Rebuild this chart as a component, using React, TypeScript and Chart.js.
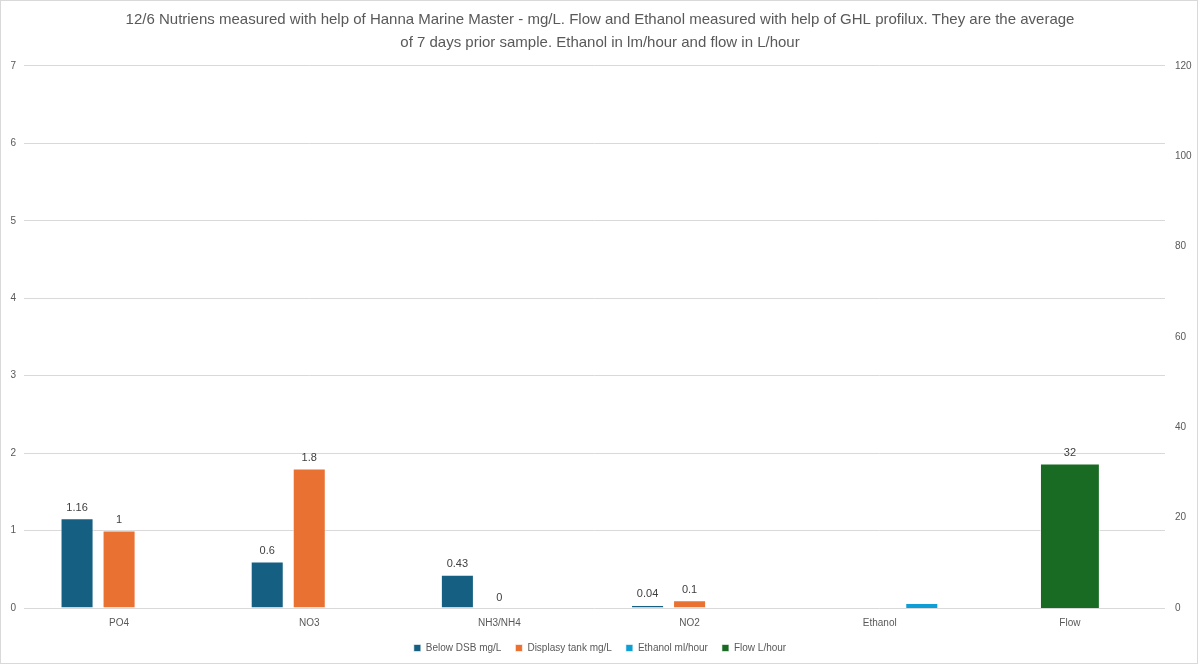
import React, { useEffect, useRef } from "react";
import { Chart, registerables } from "chart.js";

Chart.register(...registerables);

const categories = ["PO4", "NO3", "NH3/NH4", "NO2", "Ethanol", "Flow"];
const belowDSB: (number | null)[] = [1.16, 0.6, 0.43, 0.04, null, null];
const displayTank: (number | null)[] = [1, 1.8, 0, 0.1, null, null];
const ethanolMl: (number | null)[] = [null, null, null, null, 1.1, null];
const flowL: (number | null)[] = [null, null, null, null, null, 32];
const seriesNames = ["Below DSB mg/L", "Displasy tank mg/L", "Ethanol ml/hour", "Flow L/hour"];
const titleLines = [
  "12/6 Nutriens measured with help of Hanna Marine Master - mg/L. Flow and Ethanol measured with help of GHL profilux. They are the average",
  "of 7 days prior sample. Ethanol in lm/hour and flow in L/hour",
];
const leftMax = 7;
const rightMax = 120;
const rightStep = 20;

const FONT = "'Liberation Sans', Arial, sans-serif";

const frameAndLabels = {
  id: "frameAndLabels",
  beforeDraw(chart: any) {
    const { ctx, width, height } = chart;
    ctx.save();
    ctx.fillStyle = "#ffffff";
    ctx.fillRect(0, 0, width, height);
    ctx.strokeStyle = "#d9d9d9";
    ctx.lineWidth = 1;
    ctx.strokeRect(0.5, 0.5, width - 3, height - 2);
    ctx.restore();
  },
  afterDatasetsDraw(chart: any) {
    const { ctx } = chart;
    ctx.save();
    ctx.font = `11px ${FONT}`;
    ctx.fillStyle = "#404040";
    ctx.textAlign = "center";
    ctx.textBaseline = "bottom";
    chart.data.datasets.forEach((ds: any, i: number) => {
      if (!ds.showValue) return;
      const meta = chart.getDatasetMeta(i);
      meta.data.forEach((el: any, j: number) => {
        const v = ds.data[j];
        if (v === null || v === undefined) return;
        ctx.fillText(String(v), el.x, el.y - 5);
      });
    });
    ctx.restore();
  },
};

const common = {
  borderColor: "rgba(255,255,255,0.6)",
  borderWidth: 1,
  xAxisID: "x",
};

export default function App() {
  const ref = useRef<HTMLCanvasElement | null>(null);
  useEffect(() => {
    if (!ref.current) return;
    const chart = new Chart(ref.current, {
      type: "bar",
      data: {
        labels: categories,
        datasets: [
          {
            ...common,
            label: seriesNames[0],
            data: belowDSB,
            backgroundColor: "#156082",
            yAxisID: "y",
            categoryPercentage: 0.663,
            barPercentage: 0.786,
            showValue: true,
          } as any,
          {
            ...common,
            label: seriesNames[1],
            data: displayTank,
            backgroundColor: "#E97132",
            yAxisID: "y",
            categoryPercentage: 0.663,
            barPercentage: 0.786,
            showValue: true,
          } as any,
          {
            ...common,
            label: seriesNames[2],
            data: ethanolMl,
            backgroundColor: "#0F9ED5",
            yAxisID: "y1",
            categoryPercentage: 0.663,
            barPercentage: 0.786,
            showValue: false,
          } as any,
          {
            ...common,
            label: seriesNames[3],
            data: flowL,
            backgroundColor: "#196B24",
            yAxisID: "y1",
            grouped: false,
            categoryPercentage: 1,
            barPercentage: 0.315,
            showValue: true,
          } as any,
        ],
      },
      options: {
        animation: false,
        responsive: false,
        maintainAspectRatio: false,
        layout: { padding: { left: 0, right: 0, top: 0, bottom: 2 } },
        plugins: {
          title: {
            display: true,
            text: titleLines,
            color: "#595959",
            font: { family: FONT, size: 15, weight: "normal", lineHeight: 1.53 },
            padding: { top: 8, bottom: 12 },
          },
          legend: {
            position: "bottom",
            labels: {
              boxWidth: 7,
              boxHeight: 7,
              color: "#595959",
              font: { family: FONT, size: 10 },
              padding: 14,
            },
          },
          tooltip: { enabled: false },
        },
        scales: {
          x: {
            type: "category",
            offset: true,
            grid: { display: false, drawTicks: false },
            border: { display: false },
            ticks: { color: "#595959", font: { family: FONT, size: 10, lineHeight: 1 }, padding: 10 },
            afterFit: (s: any) => { s.height = 21; },
          },
          y: {
            position: "left",
            min: 0,
            max: leftMax,
            ticks: { stepSize: 1, color: "#595959", font: { family: FONT, size: 10 }, padding: 8 },
            grid: { color: "#d9d9d9", drawTicks: false },
            border: { display: false },
            afterFit: (s: any) => { s.width = 24; },
          },
          y1: {
            position: "right",
            min: 0,
            max: rightMax,
            ticks: { stepSize: rightStep, color: "#595959", font: { family: FONT, size: 10 }, padding: 10 },
            grid: { display: false, drawTicks: false },
            border: { display: false },
            afterFit: (s: any) => { s.width = 35; },
          },
        },
      } as any,
      plugins: [frameAndLabels],
    });
    return () => chart.destroy();
  }, []);
  return (
    <div style={{ position: "fixed", left: 0, top: 0, width: 1200, height: 665 }}>
      <canvas ref={ref} width={1200} height={665} style={{ display: "block" }} />
    </div>
  );
}
